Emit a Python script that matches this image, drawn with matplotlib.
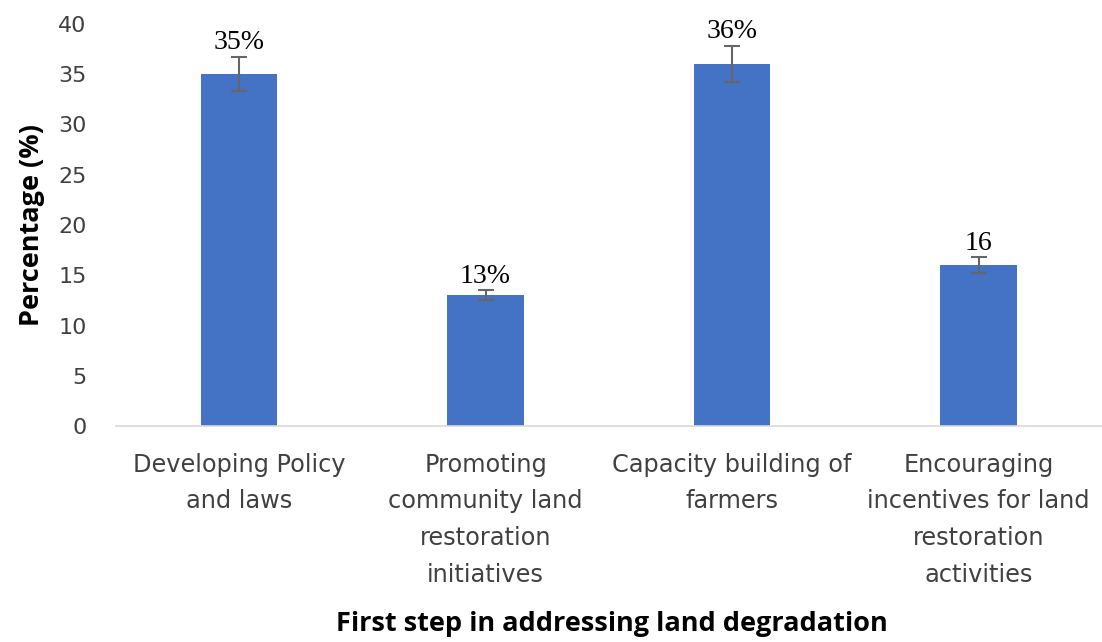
import matplotlib
matplotlib.use("Agg")
import matplotlib.pyplot as plt
import numpy as np

categories = ["Developing Policy\nand laws",
              "Promoting\ncommunity land\nrestoration\ninitiatives",
              "Capacity building of\nfarmers",
              "Encouraging\nincentives for land\nrestoration\nactivities"]
values = [35, 13, 36, 16]
errors = [1.7, 0.5, 1.8, 0.8]
labels = ["35%", "13%", "36%", "16"]
yticks = [0, 5, 10, 15, 20, 25, 30, 35, 40]

fig = plt.figure(figsize=(11.02, 6.42), dpi=100)
ax = fig.add_axes([0.105, 0.336, 0.895, 0.627])
x = np.arange(len(categories))
ax.bar(x, values, width=0.31, color="#4472C4", zorder=2)
ax.errorbar(x, values, yerr=errors, fmt="none", ecolor="#666666", elinewidth=1.5,
            capsize=6, capthick=1.5, zorder=3)
for xi, v, e, lab in zip(x, values, errors, labels):
    ax.text(xi, v + e + 0.15, lab, ha="center", va="bottom",
            family="Liberation Serif", fontsize=20, color="black")
ax.set_xlim(-0.5, 3.5)
ax.set_ylim(0, 40)
ax.set_yticks(yticks)
ax.set_xticks(x)
ax.set_xticklabels(categories, family="DejaVu Sans", fontsize=17.3, color="#404040",
                   linespacing=1.67)
ax.tick_params(axis="y", labelsize=16, labelcolor="#404040", length=0, pad=21)
ax.tick_params(axis="x", length=0, pad=19)
for lab in ax.get_yticklabels():
    lab.set_family("DejaVu Sans")
for s in ["top", "right", "left"]:
    ax.spines[s].set_visible(False)
ax.spines["bottom"].set_color("#D9D9D9")
ax.spines["bottom"].set_linewidth(1.2)
fig.text(0.029, 0.65, "Percentage (%)", rotation=90, ha="center", va="center",
         family="Open Sans", fontsize=19.5, fontweight="bold", color="black")
fig.text(0.555, 0.008, "First step in addressing land degradation", ha="center",
         va="bottom", family="Open Sans", fontsize=19.5, fontweight="bold", color="black")
fig.savefig("out.png", dpi=100)
